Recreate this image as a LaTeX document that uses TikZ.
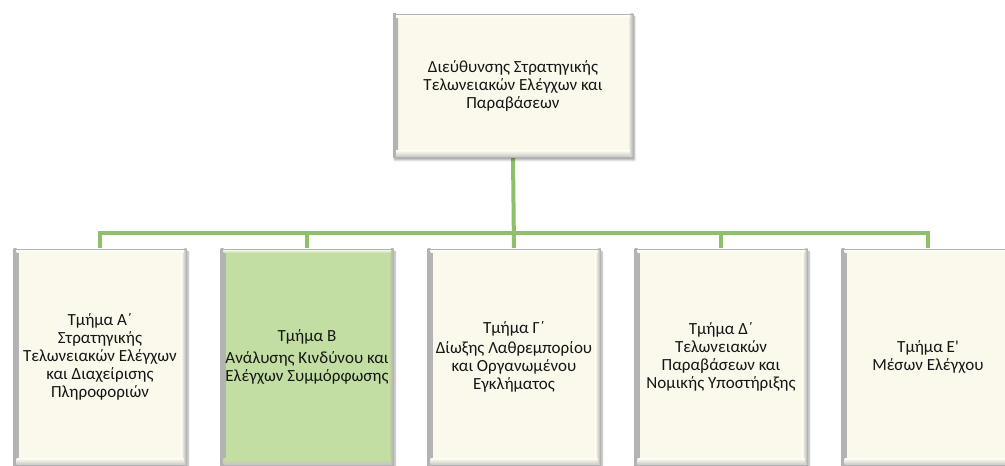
\documentclass[tikz,border=0pt]{standalone}
\usepackage{fontspec}
\setmainfont{Carlito}[Ligatures=TeXOff]
\usetikzlibrary{shadows.blur}
\pgfdeclarelayer{background}
\pgfsetlayers{background,main}
\definecolor{cream}{RGB}{250,249,236}
\definecolor{lgreen}{RGB}{195,222,162}
\definecolor{linegreen}{RGB}{143,191,105}
\definecolor{txt}{RGB}{22,22,22}
\newcommand\bevelbox[1]{%
  \shade[left color=gray!60, right color=#1] (path picture bounding box.south west) rectangle ([xshift=5pt]path picture bounding box.north west);
  \shade[right color=gray!60, left color=#1] ([xshift=-5pt]path picture bounding box.south east) rectangle (path picture bounding box.north east);
  \shade[bottom color=gray!45, top color=#1] ([xshift=3pt]path picture bounding box.south west) rectangle ([xshift=-3pt,yshift=6pt]path picture bounding box.south east);
  \shade[top color=white, bottom color=#1] ([xshift=3pt,yshift=-4pt]path picture bounding box.north west) rectangle ([xshift=-3pt]path picture bounding box.north east);
}
\tikzset{
  orgbox/.style={rectangle, fill=#1, draw=gray!60, line width=0.7pt, text=txt, align=center,
    font=\fontsize{17}{18}\selectfont, inner sep=1pt,
    blur shadow={shadow xshift=1.5pt, shadow yshift=-3pt, shadow blur steps=6, shadow opacity=35},
    path picture={\bevelbox{#1}}},
  topbox/.style={orgbox=cream, minimum width=240pt, minimum height=143pt},
  deptbox/.style={orgbox=#1, minimum width=173pt, minimum height=216pt},
  conn/.style={draw=linegreen, line width=4pt, line join=miter, line cap=rect}
}
\begin{document}
\begin{tikzpicture}[x=1pt,y=1pt]
\useasboundingbox (0,0) rectangle (1005,466);
\clip (0,0) rectangle (1005,466);
\coordinate (bus) at (513,233);
% boxes
\node[topbox] (top) at (513,380.5) {Διεύθυνσης Στρατηγικής\\Τελωνειακών Ελέγχων και\\Παραβάσεων};
\node[deptbox=cream] (A) at (100,109) {Τμήμα Α΄\\Στρατηγικής\\Τελωνειακών Ελέγχων\\και Διαχείρισης\\Πληροφοριών};
\node[deptbox=lgreen] (B) at (307,109) {Τμήμα Β\\[4pt]Ανάλυσης Κινδύνου και\\Ελέγχων Συμμόρφωσης};
\node[deptbox=cream] (G) at (514,109) {Τμήμα Γ΄\\[2pt]Δίωξης Λαθρεμπορίου\\και Οργανωμένου\\Εγκλήματος};
\node[deptbox=cream] (D) at (721,109) {Τμήμα Δ΄\\Τελωνειακών\\Παραβάσεων και\\Νομικής Υποστήριξης};
\node[deptbox=cream] (E) at (928,109) {Τμήμα Ε'\\Μέσων Ελέγχου};
% connectors
\begin{pgfonlayer}{background}
\draw[conn] (A.north) -- (A.north |- bus) -- (E.north |- bus) -- (E.north);
\draw[conn] (top.south) -- (G.north);
\draw[conn] (B.north |- bus) -- (B.north);
\draw[conn] (D.north |- bus) -- (D.north);
\end{pgfonlayer}
\end{tikzpicture}
\end{document}
